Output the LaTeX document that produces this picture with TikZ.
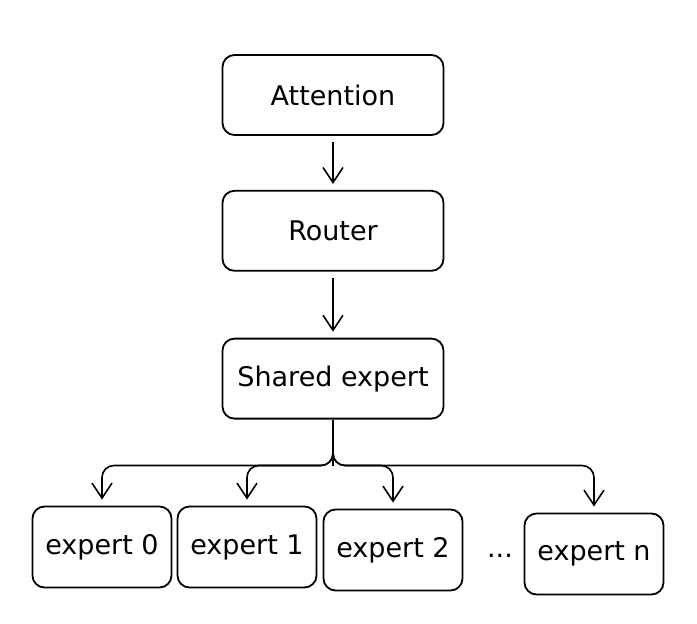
\documentclass[tikz,border=0pt]{standalone}
\usepackage{fontspec}
\setmainfont{DejaVu Sans}
\usetikzlibrary{arrows.meta,positioning}

\tikzset{
  block/.style={draw, line width=1.8pt, rounded corners=12pt, minimum width=221pt, minimum height=80pt, font=\fontsize{27}{32}\selectfont},
  expert/.style={block, minimum width=139pt, minimum height=81pt},
  arr/.style={line width=1.6pt, -{Straight Barb[length=15pt,width=20pt,line width=1.6pt]}, shorten >=6pt, shorten <=6pt},
  branch/.style={arr, rounded corners=12pt, shorten <=0pt}
}

\begin{document}
\begin{tikzpicture}[x=1pt, y=-1pt]
  \useasboundingbox (0,0) rectangle (697,624);

  \node [block] (attn) at (333,95) {Attention};
  \node [block, below=54pt of attn] (router) {Router};
  \node [block, below=66pt of router] (shared) {Shared expert};

  \node [expert] (e0) at (102,547) {expert 0};
  \node [expert] (e1) at (247,547) {expert 1};
  \node [expert] (e2) at (393,550) {expert 2};
  \node [anchor=base, font=\fontsize{27}{32}\selectfont] (dots) at (500,557) {...};
  \node [expert] (en) at (594,554) {expert n};

  \draw [arr] (attn) -- (router);
  \draw [arr] (router) -- (shared);

  % split below the shared expert
  \coordinate (split) at ([yshift=-46pt]shared.south);
  \draw [line width=1.6pt] (shared.south) -- (split);
  \foreach \e in {e0,e1,e2,en}
    \draw [branch] ([yshift=12pt]split) -- (split) -| (\e.north);
\end{tikzpicture}
\end{document}
